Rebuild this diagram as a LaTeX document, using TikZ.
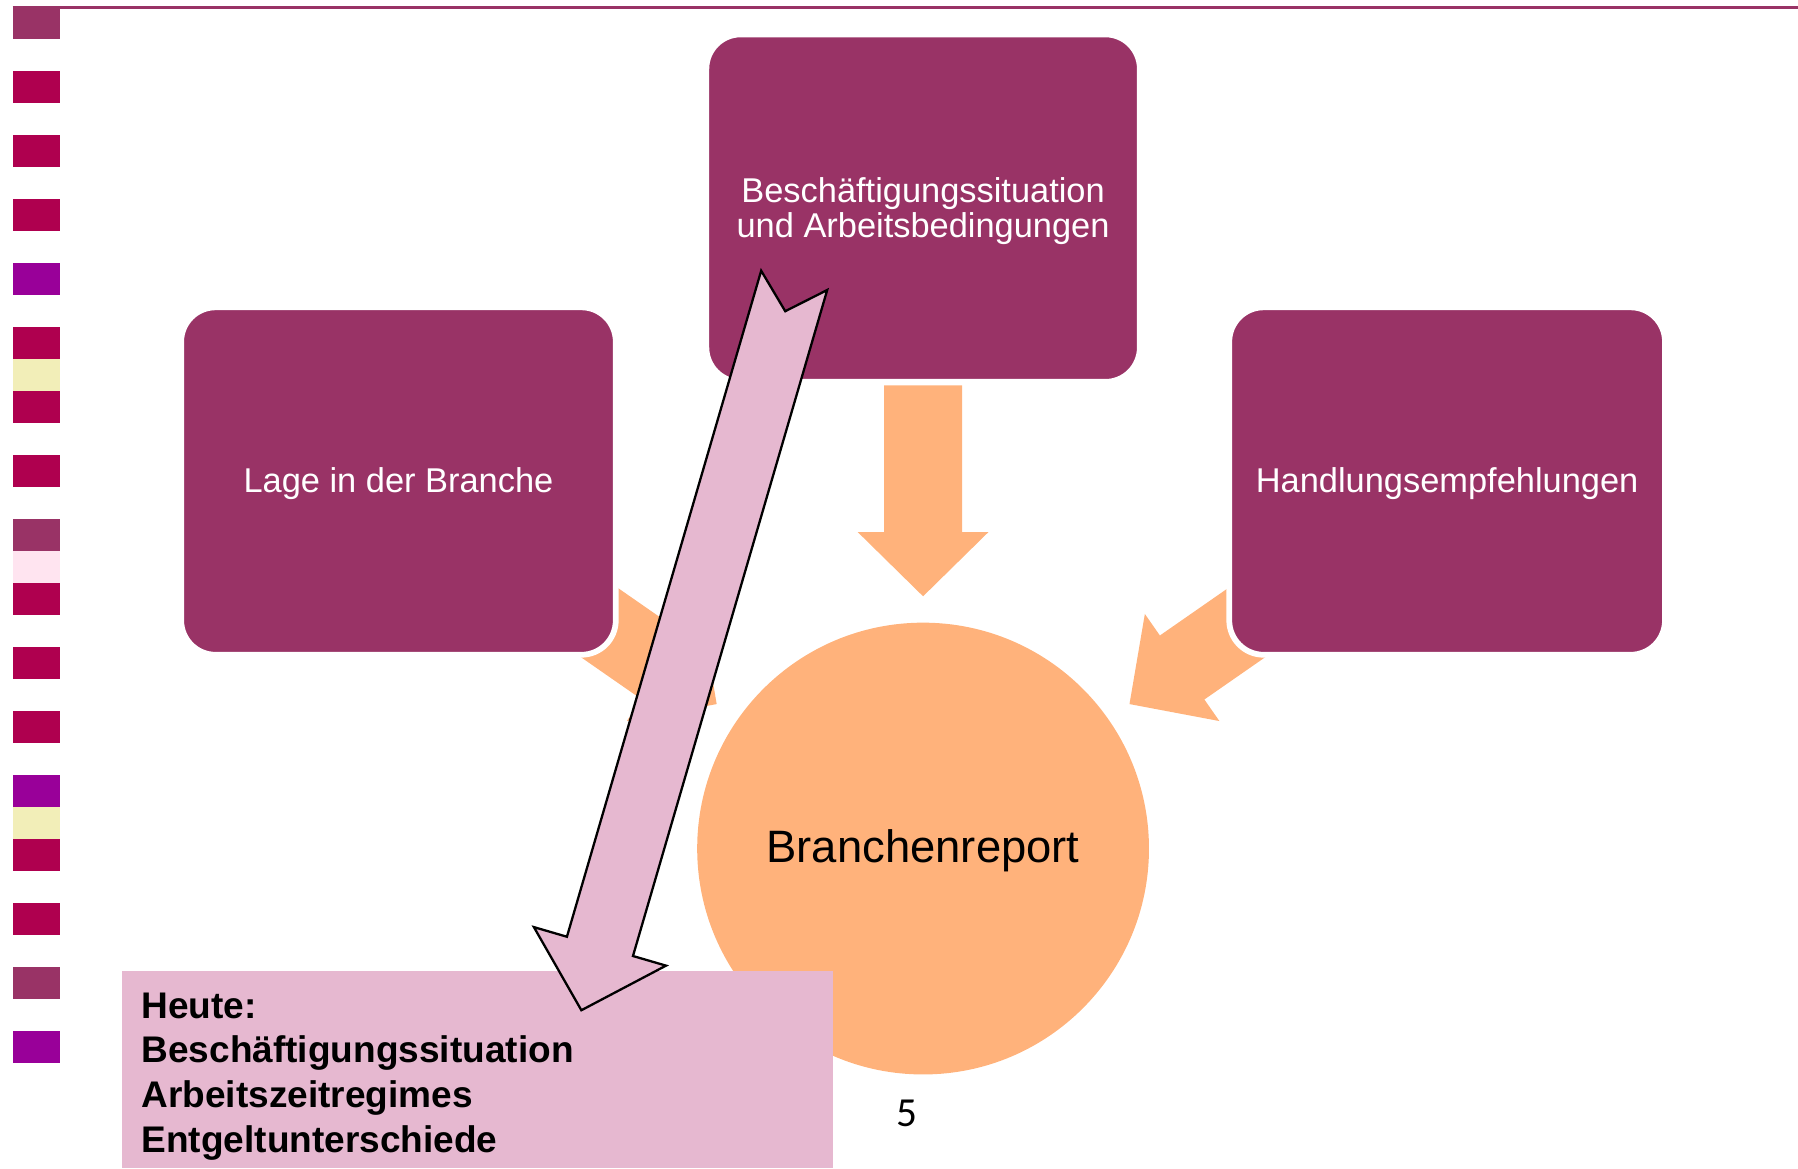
\documentclass[tikz,border=0pt]{standalone}
\usepackage{fontspec}
\setmainfont{Liberation Sans}
\newfontfamily\pagefont{Carlito}
\definecolor{plum}{HTML}{993366}
\definecolor{crim}{HTML}{AF004F}
\definecolor{purp}{HTML}{990099}
\definecolor{yell}{HTML}{F2EEB8}
\definecolor{lpink}{HTML}{FFE4F0}
\definecolor{peach}{HTML}{FFB27B}
\definecolor{arrpink}{HTML}{E6B8D0}
\tikzset{
  topicbox/.style={fill=plum, draw=white, line width=2.5pt, rounded corners=15pt},
  boxtext/.style={text=white, font=\fontsize{15}{15.5}\selectfont, align=center},
  blockarrow/.style={fill=peach, draw=none},
  notearrow/.style={fill=arrpink, draw=black, line width=1pt, line join=miter},
  listline/.style={anchor=base west, inner sep=0pt, font=\fontsize{16.15}{19.5}\selectfont\bfseries}
}
\begin{document}
\begin{tikzpicture}[x=0.5pt,y=-0.5pt]
\useasboundingbox (0,0) rectangle (1568,1019);
% top rule
\draw[plum, line width=1.5pt] (11,6.5) -- (1568,6.5);
% left column of squares
\foreach \k/\c in {0/plum,1/crim,2/crim,3/crim,4/purp,5/crim,6/crim,7/crim,8/plum,9/crim,10/crim,11/crim,12/purp,13/crim,14/crim,15/plum,16/purp}{
  \fill[\c] (11,{6+55.8*\k}) rectangle (52,{6+55.8*\k+27.9});
}
\fill[yell] (11,{6+55.8*5+27.9}) rectangle (52,{6+55.8*6});
\fill[lpink] (11,{6+55.8*8+27.9}) rectangle (52,{6+55.8*9});
\fill[yell] (11,{6+55.8*12+27.9}) rectangle (52,{6+55.8*13});
% side arrows (behind boxes)
\fill[blockarrow] (1168.4,527.9) -- (1050.3,610.0) -- (1063.4,628.8) -- (985,614) -- (998.4,535.4) -- (1011.5,554.2) -- (1129.6,472.1) -- cycle;
\fill[blockarrow] (441.6,527.9) -- (559.7,610.0) -- (546.6,628.8) -- (625,614) -- (611.6,535.4) -- (598.5,554.2) -- (480.4,472.1) -- cycle;
% centre circle
\node[circle, fill=peach, minimum size=394*0.5pt, inner sep=0pt] (report) at (805,740) {};
\node[font=\fontsize{19.8}{22}\selectfont] (reporttext) at (805,742) {Branchenreport};
% down arrow
\fill[blockarrow] (771,336) -- (839,336) -- (839,464) -- (862,464) -- (805,520) -- (748,464) -- (771,464) -- cycle;
% topic boxes
\draw[topicbox] (616,30) rectangle (994,333);
\node[boxtext] (top) at (805,184) {Beschäftigungssituation\\und Arbeitsbedingungen};
\draw[topicbox] (158,268) rectangle (537,571);
\node[boxtext] (left) at (347.5,422) {Lage in der Branche};
\draw[topicbox] (1072,268) rectangle (1452,571);
\node[boxtext] (right) at (1262,422) {Handlungsempfehlungen};
% note box
\fill[arrpink] (106,847) rectangle (726,1019);
\node[listline] (l1) at (123,888) {Heute:};
\node[listline] (l2) at (123,927) {Beschäftigungssituation};
\node[listline] (l3) at (123,966) {Arbeitszeitregimes};
\node[listline] (l4) at (123,1005) {Entgeltunterschiede};
% pink arrow
\draw[notearrow] (663.8,236.1) -- (684.8,271.4) -- (721.4,252.9) -- (552,833.7) -- (580.8,842.1) -- (507,881) -- (465.6,808.5) -- (494.4,816.9) -- cycle;
% page number
\node[font=\pagefont\fontsize{18}{20}\selectfont] (pg) at (791,971) {5};
\end{tikzpicture}
\end{document}
